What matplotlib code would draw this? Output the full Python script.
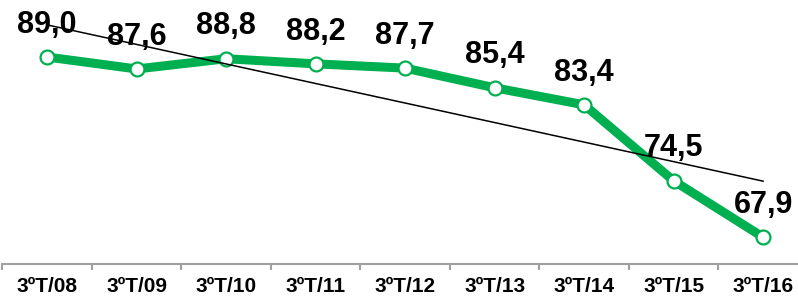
import matplotlib
matplotlib.use("Agg")
import matplotlib.pyplot as plt
import numpy as np

categories = ["3ºT/08", "3ºT/09", "3ºT/10", "3ºT/11", "3ºT/12",
              "3ºT/13", "3ºT/14", "3ºT/15", "3ºT/16"]
values = [89.0, 87.6, 88.8, 88.2, 87.7, 85.4, 83.4, 74.5, 67.9]

plt.rcParams["font.family"] = ["Liberation Sans", "DejaVu Sans"]

green = "#00B050"
gray = "#A0A0A0"

fig = plt.figure(figsize=(7.98, 2.97), dpi=100)
ax = fig.add_axes([0.003, 0.111, 0.997, 0.889])

x = np.arange(len(values))
y = np.array(values)

ax.plot(x, y, color=green, linewidth=6.5, marker="o", markersize=10,
        markerfacecolor="white", markeredgecolor=green, markeredgewidth=1.6,
        solid_capstyle="round", zorder=3)

# linear trend
slope, intercept = np.polyfit(x, y, 1)
ax.plot([x[0], x[-1]], [intercept, intercept + slope * x[-1]],
        color="black", linewidth=1.1, zorder=4)

for xi, v in zip(x, values):
    ax.annotate(f"{v:.1f}".replace(".", ","), (xi, v), xytext=(0, 17.5),
                textcoords="offset points", ha="center", va="baseline",
                fontsize=22, fontweight="bold", zorder=5)

ax.set_xlim(-0.5, 8.39)
ax.set_ylim(64.75, 95.68)

for side in ["top", "right", "left"]:
    ax.spines[side].set_visible(False)
ax.spines["bottom"].set_color(gray)
ax.spines["bottom"].set_linewidth(1.5)

ax.set_yticks([])
ax.set_xticks(x)
ax.set_xticklabels(categories, fontsize=15, fontweight="bold")
ax.tick_params(axis="x", which="major", length=0, pad=9.5)
ax.set_xticks(np.arange(-0.5, 8.5, 1.0), minor=True)
ax.tick_params(axis="x", which="minor", length=4, width=1.5, color=gray,
               direction="out")

fig.savefig("out.png", dpi=100)
